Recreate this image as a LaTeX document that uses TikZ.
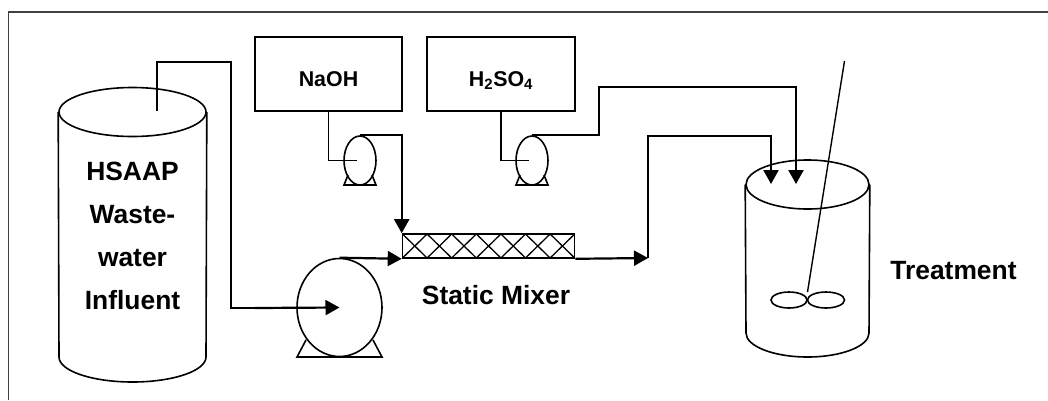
\documentclass[tikz,border=0pt]{standalone}
\usepackage{fontspec}
\setmainfont{Liberation Sans}
\usetikzlibrary{arrows.meta,shapes.geometric}
\tikzset{
  pipe/.style={black,line width=1.7pt},
  flow/.style={black,line width=2.2pt,-{Triangle[length=14pt,width=15pt]}},
  unit/.style={draw,line width=1.6pt,inner sep=0pt},
  shell/.style={line width=1.6pt},
  label/.style={font=\bfseries\fontsize{26.4}{43}\selectfont,align=center,inner sep=0pt},
  small/.style={font=\bfseries\fontsize{21.4}{25}\selectfont,inner sep=0pt,anchor=base}
}
\begin{document}
\begin{tikzpicture}[x=1pt,y=-1pt]
\useasboundingbox (0,0) rectangle (1048,400);
% Draw the outer frame
\draw[line width=1.2pt,black!75] (8.5,400) -- (8.5,12) -- (1048,12);
% Draw the influent tank
\node[unit,ellipse,minimum width=147pt,minimum height=49pt] (tanka) at (132.5,112) {};
\draw[shell] (tanka.west) -- (59,357) arc[start angle=180,end angle=360,x radius=73.5pt,y radius=25pt] -- (tanka.east);
\node[label] (influent) at (132.5,236) {HSAAP\\Waste-\\water\\Influent};
% Draw the dosing tanks and pumps
\node[unit,rectangle,minimum width=147pt,minimum height=74pt] (naoh) at (328.5,74) {};
\node[small] (naohtext) at (328.5,86.3) {NaOH};
\node[unit,rectangle,minimum width=148pt,minimum height=74pt] (acid) at (501,74) {};
\node[small] (acidtext) at (501,86.3) {H\textsubscript{2}SO\textsubscript{4}};
\node[unit,ellipse,minimum width=32pt,minimum height=49pt] (pumpa) at (360,160.5) {};
\node[unit,ellipse,minimum width=32pt,minimum height=49pt] (pumpb) at (532,160.5) {};
\foreach \p/\cx in {pumpa/360,pumpb/532}
  \draw[shell] (\cx-12,175) -- (\cx-16,185) -- (\cx+16,185) -- (\cx+12,175);
% Draw the main pump
\node[unit,ellipse,minimum width=85pt,minimum height=98pt] (pumpc) at (339.5,307.5) {};
\draw[shell] (306,340) -- (297,357) -- (382,357) -- (373,340);
% Draw the static mixer
\node[unit,rectangle,minimum width=172pt,minimum height=24pt] (mixer) at (488.5,246) {};
\foreach \i in {0,...,6} {
  \draw[line width=1.3pt] ({402.5+\i*24.6},234) -- ({427.1+\i*24.6},258);
  \draw[line width=1.3pt] ({402.5+\i*24.6},258) -- ({427.1+\i*24.6},234);
}
\node[label] (mixertext) at (496,295) {Static Mixer};
% Draw the treatment tank
\node[unit,ellipse,minimum width=123pt,minimum height=49pt] (tankb) at (807.5,184.5) {};
\draw[shell] (tankb.west) -- (746,333) arc[start angle=180,end angle=360,x radius=61.5pt,y radius=24pt] -- (tankb.east);
\node[label] (treatment) at (953.5,271) {Treatment};
% Draw the stirrer
\node[unit,ellipse,minimum width=36pt,minimum height=16pt] (bladea) at (789,300) {};
\node[unit,ellipse,minimum width=37pt,minimum height=16pt] (bladeb) at (826,300) {};
\coordinate (shafttop) at (844.5,61);
\coordinate (shaftend) at (807.5,292);
\draw[line width=1.4pt] (shafttop) -- (shaftend);
% Draw the pipes
\coordinate (outlet) at (157,111);
\coordinate (pipeup) at (231,62);
\coordinate (enda) at (357,160.5);
\coordinate (endb) at (529,160.5);
\coordinate (tipa) at (771,184);
\coordinate (tipb) at (796,184);
\coordinate (riser) at (648,258);
\coordinate (acidup) at (599,87);
\draw[pipe] (outlet) -- (157,62) -- (pipeup) -- (231,308) -- (255,308);
\draw[flow] (255,308) -- (pumpc.center);
\draw[pipe] (naoh.south) |- (enda);
\draw[pipe] (acid.south) |- (endb);
\draw[flow] (pumpa.north) -| (mixer.north west);
\draw[flow] (pumpc.north) -- (mixer.south west);
\draw[flow] (mixer.south east) -- (riser);
\draw[flow] (riser) |- (771,136) -- (tipa);
\draw[flow] (pumpb.north) -| (acidup) -| (tipb);
\end{tikzpicture}
\end{document}
